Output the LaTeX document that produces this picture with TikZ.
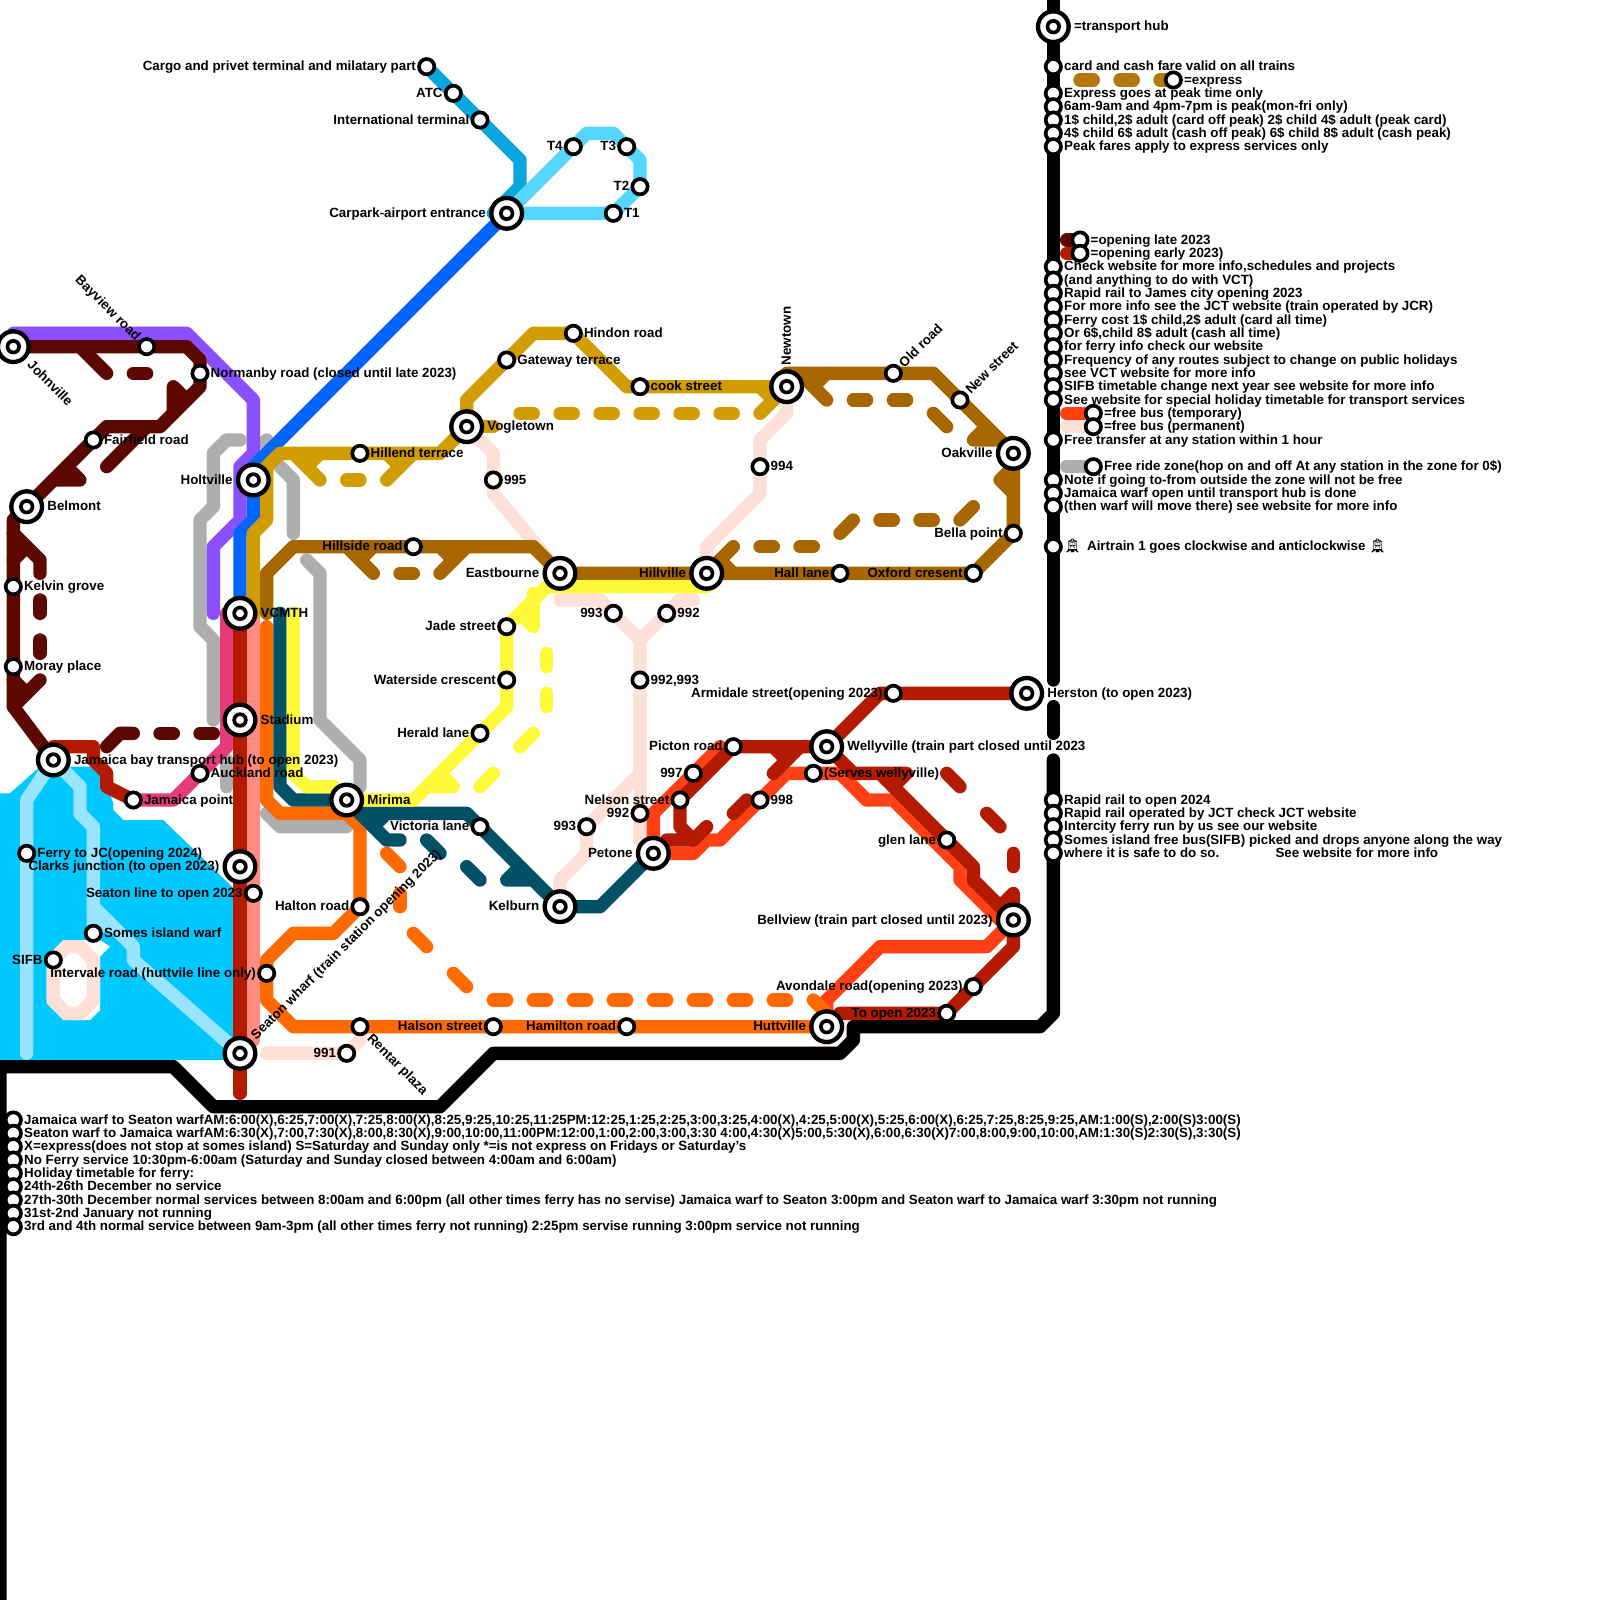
\documentclass[tikz,border=0pt]{standalone}
\usepackage{fontspec}
\setmainfont{Liberation Sans}[BoldFont={Liberation Sans Bold}]
\newfontfamily\emojifont{Noto Emoji}
\usetikzlibrary{backgrounds}
\definecolor{maroon}{HTML}{5C0800}
\definecolor{redline}{HTML}{B31A00}
\definecolor{fireline}{HTML}{FF4015}
\definecolor{peach}{HTML}{FFE0D6}
\definecolor{orangeline}{HTML}{FF6A00}
\definecolor{salmon}{HTML}{FF8C82}
\definecolor{pinkline}{HTML}{E63A7A}
\definecolor{brownline}{HTML}{A86600}
\definecolor{expbrown}{HTML}{B5760A}
\definecolor{goldline}{HTML}{D19C00}
\definecolor{tealline}{HTML}{005066}
\definecolor{yellowline}{HTML}{FFF93A}
\definecolor{grayline}{HTML}{AEAEAE}
\definecolor{purpleline}{HTML}{8A50FF}
\definecolor{blueline}{HTML}{0066FF}
\definecolor{water}{HTML}{00C8FF}
\definecolor{ferry}{HTML}{99E5FF}
\definecolor{airport}{HTML}{0AA5DC}
\definecolor{airloop}{HTML}{55D6FF}

\begin{document}
\begin{tikzpicture}[
        x=0.4cm, y=-0.4cm,
        font=\bfseries\fontsize{11.4}{13}\selectfont,
        mm/.style={line width=0.4cm, line cap=round, line join=round},
        stop/.style={circle, draw=black, fill=white, line width=0.11cm,
                     minimum size=0.46cm, inner sep=0pt},
        hub/.style={circle, draw=black, fill=white, line width=0.13cm,
                    minimum size=0.92cm, inner sep=0pt,
                    path picture={\draw[line width=0.11cm]
                        (path picture bounding box.center) circle (0.175cm);}},
        lab/.style={inner sep=0pt, text height=9pt, text depth=1.8pt},
        stoplab/.style={lab, inner xsep=0.03cm},
        hublab/.style={lab, inner xsep=0.09cm},
    ]
    \useasboundingbox (0,0) rectangle (120,120);

    % airport
    \node[stop, label={[stoplab]left:Cargo and privet terminal and milatary part}] (cargo) at (32,5) {};
    \node[stop, label={[stoplab]left:ATC}] (atc) at (34,7) {};
    \node[stop, label={[stoplab]left:International terminal}] (intl) at (36,9) {};
    \node[hub, label={[hublab]left:Carpark-airport entrance}] (carpark) at (38,16) {};
    \node[stop, label={[stoplab]right:T1}] (tone) at (46,16) {};
    \node[stop, label={[stoplab]left:T2}] (ttwo) at (48,14) {};
    \node[stop, label={[stoplab]left:T3}] (tthree) at (47,11) {};
    \node[stop, label={[stoplab]left:T4}] (tfour) at (43,11) {};

    % west side
    \node[hub] (johnville) at (1,26) {};
    \node[stop] (bayview) at (11,26) {};
    \node[stop, label={[stoplab]right:Normanby road (closed until late 2023)}] (normanby) at (15,28) {};
    \node[stop, label={[stoplab]right:Fairfield road}] (fairfield) at (7,33) {};
    \node[hub, label={[hublab]right:Belmont}] (belmont) at (2,38) {};
    \node[stop, label={[stoplab]right:Kelvin grove}] (kelvin) at (1,44) {};
    \node[stop, label={[stoplab]right:Moray place}] (moray) at (1,50) {};
    \node[hub, label={[hublab]left:Holtville}] (holtville) at (19,36) {};
    \node[hub, label={[hublab]right:VCMTH}] (vcmth) at (18,46) {};
    \node[hub, label={[hublab]right:Stadium}] (stadium) at (18,54) {};
    \node[hub, label={[hublab]right:Jamaica bay transport hub (to open 2023)}] (jamaica) at (4,57) {};
    \node[stop, label={[stoplab]right:Auckland road}] (auckland) at (15,58) {};
    \node[stop, label={[stoplab]right:Jamaica point}] (jpoint) at (10,60) {};
    \node[stop, label={[stoplab]right:Ferry to JC(opening 2024)}] (ferryjc) at (2,64) {};
    \node[hub, label={[hublab]left:Clarks junction (to open 2023)}] (clarks) at (18,65) {};
    \node[stop, label={[stoplab]left:Seaton line to open 2023}] (seatonline) at (19,67) {};
    \node[stop, label={[stoplab]right:Somes island warf}] (somes) at (7,70) {};
    \node[stop, label={[stoplab]left:SIFB}] (sifb) at (4,72) {};
    \node[stop, label={[stoplab]left:Intervale road (huttvile line only)}] (intervale) at (20,73) {};
    \node[hub] (seatonw) at (18,79) {};
    \node[stop, label={[stoplab]left:Halton road}] (halton) at (27,68) {};
    \node[stop, label={[stoplab]left:991}] (ninetyone) at (26,79) {};
    \node[stop] (rentar) at (27,77) {};

    % middle
    \node[stop, label={[stoplab]right:Hillend terrace}] (hillend) at (27,34) {};
    \node[hub, label={[hublab]right:Vogletown}] (vogletown) at (35,32) {};
    \node[stop, label={[stoplab]right:Gateway terrace}] (gateway) at (38,27) {};
    \node[stop, label={[stoplab]right:Hindon road}] (hindon) at (43,25) {};
    \node[stop, label={[stoplab]right:cook street}] (cook) at (48,29) {};
    \node[hub] (newtown) at (59,29) {};
    \node[stop, label={[stoplab]right:995}] (nfive) at (37,36) {};
    \node[stop, label={[stoplab]right:994}] (nfour) at (57,35) {};
    \node[stop, label={[stoplab]left:Hillside road}] (hillside) at (31,41) {};
    \node[hub, label={[hublab]left:Eastbourne}] (eastbourne) at (42,43) {};
    \node[hub, label={[hublab]left:Hillville}] (hillville) at (53,43) {};
    \node[stop, label={[stoplab]left:Jade street}] (jade) at (38,47) {};
    \node[stop, label={[stoplab]left:Waterside crescent}] (waterside) at (38,51) {};
    \node[stop, label={[stoplab]left:Herald lane}] (herald) at (36,55) {};
    \node[stop, label={[stoplab]left:993}] (nthreetop) at (46,46) {};
    \node[stop, label={[stoplab]right:992}] (ntwotop) at (50,46) {};
    \node[stop, label={[stoplab]right:{992,993}}] (ntwothree) at (48,51) {};
    \node[hub, label={[hublab]right:Mirima}] (mirima) at (26,60) {};
    \node[stop, label={[stoplab]left:Victoria lane}] (victoria) at (36,62) {};
    \node[hub, label={[hublab]left:Kelburn}] (kelburn) at (42,68) {};
    \node[hub, label={[hublab]left:Petone}] (petone) at (49,64) {};
    \node[stop, label={[stoplab]left:993}] (nthreelow) at (44,62) {};
    \node[stop, label={[stoplab]left:992}] (ntwolow) at (48,61) {};
    \node[stop, label={[stoplab]left:Nelson street}] (nelson) at (51,60) {};
    \node[stop, label={[stoplab]left:997}] (nseven) at (52,58) {};
    \node[stop, label={[stoplab]right:998}] (neight) at (57,60) {};
    \node[stop, label={[stoplab]left:Picton road}] (picton) at (55,56) {};
    \node[stop, label={[stoplab]left:Halson street}] (halson) at (37,77) {};
    \node[stop, label={[stoplab]left:Hamilton road}] (hamilton) at (47,77) {};
    \node[hub, label={[hublab]left:Huttville}] (huttville) at (62,77) {};

    % east side
    \node[stop] (oldroad) at (67,28) {};
    \node[stop] (newstreet) at (72,30) {};
    \node[hub, label={[hublab]left:Oakville}] (oakville) at (76,34) {};
    \node[stop, label={[stoplab]left:Bella point}] (bella) at (76,40) {};
    \node[stop, label={[stoplab]left:Oxford cresent}] (oxford) at (73,43) {};
    \node[stop, label={[stoplab]left:Hall lane}] (hall) at (63,43) {};
    \node[stop, label={[stoplab]left:Armidale street(opening 2023)}] (armidale) at (67,52) {};
    \node[hub, label={[hublab]right:Herston (to open 2023)}] (herston) at (77,52) {};
    \node[hub, label={[hublab]right:Wellyville (train part closed until 2023}] (wellyville) at (62,56) {};
    \node[stop, label={[stoplab]right:(Serves wellyville)}] (serves) at (61,58) {};
    \node[stop, label={[stoplab]left:glen lane}] (glen) at (71,63) {};
    \node[hub, label={[hublab]left:Bellview (train part closed until 2023)}] (bellview) at (76,69) {};
    \node[stop, label={[stoplab]left:Avondale road(opening 2023)}] (avondale) at (73,74) {};
    \node[stop, label={[stoplab]left:To open 2023}] (toopen) at (71,76) {};

    % slanted names
    \node[lab, rotate=-45, anchor=east] (bayviewlab) at (10.4,25.4) {Bayview road};
    \node[lab, rotate=-45, anchor=west] (johnvillelab) at (2.2,27.2) {Johnville};
    \node[lab, rotate=45, anchor=west] (seatonwlab) at (19,77.8) {Seaton wharf (train station opening 2023)};
    \node[lab, rotate=-45, anchor=west] (rentarlab) at (27.7,77.7) {Rentar plaza};
    \node[lab, rotate=90, anchor=west] (newtownlab) at (59,27.4) {Newtown};
    \node[lab, rotate=45, anchor=west] (oldroadlab) at (67.6,27.4) {Old road};
    \node[lab, rotate=45, anchor=west] (newstreetlab) at (72.6,29.4) {New street};

    % legend, right hand side
    \node[hub, label={[hublab]right:=transport hub}] (keyhub) at (79,2) {};
    \foreach \row/\txt in {5/{card and cash fare valid on all trains},
            7/{Express goes at peak time only},
            8/{6am-9am and 4pm-7pm is peak(mon-fri only)},
            9/{1\$ child,2\$ adult (card off peak) 2\$ child 4\$ adult (peak card)},
            10/{4\$ child 6\$ adult (cash off peak) 6\$ child 8\$ adult (cash peak)},
            11/{Peak fares apply to express services only},
            20/{Check website for more info,schedules and projects},
            21/{(and anything to do with VCT)},
            22/{Rapid rail to James city opening 2023},
            23/{For more info see the JCT website (train operated by JCR)},
            24/{Ferry cost 1\$ child,2\$ adult (card all time)},
            25/{Or 6\$,child 8\$ adult (cash all time)},
            26/{for ferry info check our website},
            27/{Frequency of any routes subject to change on public holidays},
            28/{see VCT website for more info},
            29/{SIFB timetable change next year see website for more info},
            30/{See website for special holiday timetable for transport services},
            33/{Free transfer at any station within 1 hour},
            36/{Note if going to-from outside the zone will not be free},
            37/{Jamaica warf open until transport hub is done},
            38/{(then warf will move there) see website for more info},
            41/{{\emojifont 🚊}\, Airtrain 1 goes clockwise and anticlockwise {\emojifont 🚊}},
            60/{Rapid rail to open 2024},
            61/{Rapid rail operated by JCT check JCT website},
            62/{Intercity ferry run by us see our website},
            63/{Somes island free bus(SIFB) picked and drops anyone along the way},
            64/{where it is safe to do so.\hspace{48pt}See website for more info}} {
        \node[stop] (key\row) at (79,\row) {};
        \node[lab, anchor=west] (keytxt\row) at (79.8,\row) {\txt};
    }
    \node[stop, label={[stoplab]right:=express}] (keyexpress) at (88,6) {};
    \node[stop, label={[stoplab]right:=opening late 2023}] (keylate) at (81,18) {};
    \node[stop, label={[stoplab]right:=opening early 2023)}] (keyearly) at (81,19) {};
    \node[stop, label={[stoplab]right:=free bus (temporary)}] (keytemp) at (82,31) {};
    \node[stop, label={[stoplab]right:=free bus (permanent)}] (keyperm) at (82,32) {};
    \node[stop, label={[stoplab]right:Free ride zone(hop on and off At any station in the zone for 0\$)}] (keyzone) at (82,35) {};

    % ferry timetable
    \foreach \row/\txt in {84/{Jamaica warf to Seaton warfAM:6:00(X),6:25,7:00(X),7:25,8:00(X),8:25,9:25,10:25,11:25PM:12:25,1:25,2:25,3:00,3:25,4:00(X),4:25,5:00(X),5:25,6:00(X),6:25,7:25,8:25,9:25,AM:1:00(S),2:00(S)3:00(S)},
            85/{Seaton warf to Jamaica warfAM:6:30(X),7:00,7:30(X),8:00,8:30(X),9:00,10:00,11:00PM:12:00,1:00,2:00,3:00,3:30 4:00,4:30(X)5:00,5:30(X),6:00,6:30(X)7:00,8:00,9:00,10:00,AM:1:30(S)2:30(S),3:30(S)},
            86/{X=express(does not stop at somes island) S=Saturday and Sunday only *=is not express on Fridays or Saturday's},
            87/{No Ferry service 10:30pm-6:00am (Saturday and Sunday closed between 4:00am and 6:00am)},
            88/{Holiday timetable for ferry:},
            89/{24th-26th December no service},
            90/{27th-30th December normal services between 8:00am and 6:00pm (all other times ferry has no servise) Jamaica warf to Seaton 3:00pm and Seaton warf to Jamaica warf 3:30pm not running},
            91/{31st-2nd January not running},
            92/{3rd and 4th normal service between 9am-3pm (all other times ferry not running) 2:25pm servise running 3:00pm service not running}} {
        \node[stop] (time\row) at (1,\row) {};
        \node[lab, anchor=west] (timetxt\row) at (1.8,\row) {\txt};
    }

    \begin{scope}[on background layer]
        % harbour
        \fill[water] (0,59.5) -- (0.75,59.5) -- (3,57.5) -- (7.5,57.5) -- (8.5,60.25) -- (8.5,60.75)
            -- (9.25,61.5) -- (12.25,61.5) -- (17.5,66.6) -- (17.5,79.5) -- (0,79.5) -- cycle;
        \fill[white] (4.75,70.5) -- (7.5,70.5) -- (8.25,71) -- (7.5,71.75) -- (7.5,75.75) -- (6.75,76.5)
            -- (4.75,76.5) -- (3.5,75.25) -- (3.5,71.75) -- cycle;
        \draw[mm, ferry] (jamaica.center) -- (2,60) -- (ferryjc.center) -- (2,79);
        \draw[mm, ferry] (jamaica.center) -- (6,59) -- (6,61) -- (7,62) -- (7,68) -- (10,71) -- (10,72) -- (seatonw.center);
        \draw[mm, ferry] (7,68) -- (somes.center) -- (8,69);
        \draw[mm, peach] (5,71) -- (6,71) -- (7,72) -- (7,75) -- (6,76) -- (5,76) -- (4,75) -- (sifb.center) -- cycle;

        % free ride zone
        \draw[mm, grayline] (18,33) -- (17,33) -- (16,34) -- (16,38) -- (15,39) -- (15,47) -- (16,48) -- (16,54);
        \draw[mm, grayline] (17,57) -- (17,59);
        \draw[mm, grayline] (20,33) -- (19.8,33.2);
        \draw[mm, grayline] (20,34) -- (22,36) -- (22,40);
        \draw[mm, grayline] (23,42) -- (24,43) -- (24,54) -- (27,57) -- (27,59);
        \draw[mm, grayline] (20,61) -- (21,62) -- (26,62);

        % free buses
        \draw[mm, peach] (20,79) -- (ninetyone.center) -- (27,78) -- (rentar.center);
        \draw[mm, peach] (vogletown.center) -- (37,34) -- (nfive.center) -- (37,37) -- (eastbourne.center);
        \draw[mm, peach] (newtown.center) -- (59,31) -- (57,33) -- (nfour.center) -- (57,37) -- (53,41) -- (hillville.center);
        \draw[mm, peach] (42,45) -- (45,45) -- (48,48) -- (ntwothree.center) -- (48,58) -- (nthreelow.center) -- (44,64) -- (42,66) -- (kelburn.center);
        \draw[mm, peach] (48,58) -- (ntwolow.center) -- (48,63) -- (petone.center);
        \draw[mm, peach] (48,48) -- (51,45) -- (52,45);
        \draw[mm, peach] (huttville.center) -- (63,77) -- (62,78);

        % airport lines
        \draw[mm, airport] (cargo.center) -- (atc.center) -- (intl.center) -- (39,12) -- (39,14) -- (37,16) -- (carpark.center);
        \draw[mm, airloop] (carpark.center) -- (tfour.center) -- (44,10) -- (46,10) -- (48,12) -- (ttwo.center) -- (tone.center) -- cycle;

        \draw[mm, purpleline] (1,25) -- (14,25) -- (19,30) -- (19,34) -- (18,35) -- (18,39) -- (16,41) -- (16,46);
        \draw[mm, blueline] (carpark.center) -- (19,35) -- (holtville.center) -- (19,39) -- (18,40) -- (vcmth.center);
        \draw[mm, pinkline] (jpoint.center) -- (13,60) -- (auckland.center) -- (17,56) -- (17,46);

        % maroon line
        \draw[mm, maroon] (johnville.center) -- (bayview.center) -- (14,26) -- (15,27) -- (normanby.center) -- (15,29)
            -- (12,32) -- (8,32) -- (fairfield.center) -- (belmont.center) -- (1,39) -- (kelvin.center) -- (moray.center)
            -- (1,53) -- (jamaica.center);
        \draw[mm, maroon] (6,26) -- (8,28);
        \draw[mm, maroon] (10,28) -- (11,28);
        \draw[mm, maroon] (13,31) -- (13,29) -- (14,30);
        \draw[mm, maroon] (8,35) -- (11,32);
        \draw[mm, maroon] (5,35) -- (6,36) -- (4,36);
        \draw[mm, maroon] (1,40) -- (3,42) -- (3,43);
        \draw[mm, maroon] (2,41) -- (1,42);
        \draw[mm, maroon] (3,45) -- (3,46);
        \draw[mm, maroon] (3,48) -- (3,49);
        \draw[mm, maroon] (3,51) -- (1,53);
        \draw[mm, maroon] (1,51) -- (2,52);
        \draw[mm, maroon] (8,56) -- (9,55) -- (10,55);
        \draw[mm, maroon] (12,55) -- (13,55);
        \draw[mm, maroon] (15,55) -- (16,55);

        \draw[mm, salmon] (19,46) -- (19,78) -- (seatonw.center);
        \draw[mm, redline] (vcmth.center) -- (stadium.center) -- (clarks.center) -- (seatonw.center) -- (18,82);
        \draw[mm, redline] (jamaica.center) -- (4,56) -- (7,56) -- (7,57) -- (8,58) -- (8,59) -- (jpoint.center);

        % gold line
        \draw[mm, goldline] (19,46) -- (19,40) -- (20,39) -- (20,35) -- (21,34) -- (hillend.center) -- (33,34)
            -- (vogletown.center) -- (35,30) -- (gateway.center) -- (40,25) -- (hindon.center) -- (47,29)
            -- (cook.center) -- (newtown.center);
        \draw[mm, goldline] (22,34) -- (24,36);
        \draw[mm, goldline] (23,35) -- (24,34);
        \draw[mm, goldline] (26,36) -- (27,36);
        \draw[mm, goldline] (29,36) -- (31,34);
        \draw[mm, goldline] (30,35) -- (29,34);
        \draw[mm, goldline] (vogletown.center) -- (37,32);
        \foreach \a/\b in {39/40,42/43,45/46,48/49,51/52,54/55} {
            \draw[mm, goldline] (\a,31) -- (\b,31);
        }
        \draw[mm, goldline] (57,31) -- (newtown.center);
        \draw[mm, goldline] (57,29) -- (58,30);

        % brown line
        \draw[mm, brownline] (20,46) -- (20,43) -- (22,41) -- (hillside.center) -- (40,41) -- (eastbourne.center)
            -- (hillville.center) -- (hall.center) -- (oxford.center) -- (bella.center) -- (oakville.center)
            -- (newstreet.center) -- (70,28) -- (oldroad.center) -- (59,28) -- (newtown.center);
        \draw[mm, brownline] (26,41) -- (28,43);
        \draw[mm, brownline] (27,42) -- (28,41);
        \draw[mm, brownline] (30,43) -- (31,43);
        \draw[mm, brownline] (33,43) -- (35,41);
        \draw[mm, brownline] (34,42) -- (33,41);
        \draw[mm, brownline] (hillville.center) -- (55,41);
        \draw[mm, brownline] (54,42) -- (55,43);
        \draw[mm, brownline] (57,41) -- (58,41);
        \draw[mm, brownline] (60,41) -- (61,41);
        \draw[mm, brownline] (63,40) -- (64,39);
        \draw[mm, brownline] (66,39) -- (67,39);
        \draw[mm, brownline] (69,39) -- (70,39);
        \draw[mm, brownline] (72,39) -- (73,38);
        \draw[mm, brownline] (60,28) -- (62,30);
        \draw[mm, brownline] (61,29) -- (62,28);
        \draw[mm, brownline] (64,30) -- (65,30);
        \draw[mm, brownline] (67,30) -- (68,30);
        \draw[mm, brownline] (70,31) -- (71,32);
        \draw[mm, brownline] (74,32) -- (73,33) -- (75,33);
        \draw[mm, brownline] (76,35) -- (75,36) -- (76,37);

        % orange line
        \draw[mm, orangeline] (20,47) -- (20,60) -- (21,61) -- (26,61) -- (27,62) -- (halton.center) -- (25,70) -- (22,70)
            -- (20,72) -- (intervale.center) -- (20,75) -- (22,77) -- (rentar.center) -- (halson.center)
            -- (hamilton.center) -- (huttville.center);
        \draw[mm, orangeline] (29,64) -- (30,65);
        \draw[mm, orangeline] (30,67) -- (30,68);
        \draw[mm, orangeline] (31,70) -- (32,71);
        \draw[mm, orangeline] (34,73) -- (35,74);
        \foreach \a/\b in {37/38,40/41,43/44,46/47,49/50,52/53,55/56,58/59} {
            \draw[mm, orangeline] (\a,75) -- (\b,75);
        }

        % teal line
        \draw[mm, tealline] (21,46) -- (21,59) -- (22,60) -- (mirima.center) -- (27,61) -- (35,61) -- (victoria.center)
            -- (kelburn.center) -- (45,68) -- (petone.center);
        \draw[mm, tealline] (27,61) -- (29,63) -- (30,63);
        \draw[mm, tealline] (28,62) -- (29,61);
        \draw[mm, tealline] (32,63) -- (33,64);
        \draw[mm, tealline] (35,65) -- (36,66);
        \draw[mm, tealline] (39,65) -- (38,66) -- (40,66);

        % yellow line
        \draw[mm, yellowline] (22,46) -- (22,58) -- (23,59) -- (25,59) -- (mirima.center) -- (31,60) -- (herald.center)
            -- (38,53) -- (waterside.center) -- (jade.center) -- (41,44) -- (53,44);
        \draw[mm, yellowline] (40,44.5) -- (40,47) -- (39,46);
        \draw[mm, yellowline] (41,49) -- (41,50);
        \draw[mm, yellowline] (41,52) -- (41,53);
        \draw[mm, yellowline] (39,56) -- (40,55);
        \draw[mm, yellowline] (36,59) -- (37,58);
        \draw[mm, yellowline] (33,58) -- (34,59) -- (32,59);

        % free bus, temporary
        \draw[mm, fireline] (54,56) -- (nseven.center) -- (49,61) -- (petone.center) -- (52,64) -- (53,63) -- (54,63)
            -- (neight.center) -- (59,58) -- (serves.center) -- (63,58) -- (65,60) -- (67,60) -- (72,65) -- (72,66)
            -- (75,69) -- (bellview.center) -- (74,71) -- (66,71) -- (62,75) -- (huttville.center);

        % red line
        \draw[mm, redline] (herston.center) -- (armidale.center) -- (66,52) -- (wellyville.center) -- (picton.center)
            -- (nelson.center) -- (51,62) -- (52,63) -- (50,63);
        \draw[mm, redline] (52,63) -- (53,62);
        \draw[mm, redline] (55,61) -- (56,60);
        \draw[mm, redline] (58,58) -- (60,56);
        \draw[mm, redline] (59,57) -- (58,56);
        \draw[mm, redline] (wellyville.center) -- (64,58) -- (66,58) -- (glen.center) -- (73,65) -- (73,66) -- (bellview.center)
            -- (76,71) -- (avondale.center) -- (toopen.center) -- (63,76) -- (huttville.center);
        \draw[mm, redline] (66,58) -- (68,58) -- (67,59);
        \draw[mm, redline] (71,58) -- (72,59);
        \draw[mm, redline] (74,61) -- (75,62);
        \draw[mm, redline] (76,64) -- (76,65);
        \draw[mm, redline] (75,68) -- (76,67) -- (bellview.center);

        \draw[mm, orangeline] (61,75) -- (62,76) -- (huttville.center);

        % transport border
        \draw[mm, black] (keyhub.center) -- (79,0);
        \draw[mm, black] (keyhub.center) -- (79,51);
        \draw[mm, black] (79,53) -- (79,55);
        \draw[mm, black] (79,57) -- (79,76) -- (78,77) -- (64,77) -- (64,78) -- (63,79) -- (37,79) -- (33,83) -- (16,83)
            -- (13,80) -- (0,80) -- (0,120);

        % legend swatches
        \draw[mm, expbrown] (81,6) -- (82,6);
        \draw[mm, expbrown] (84,6) -- (85,6);
        \draw[mm, expbrown] (87,6) -- (keyexpress.center);
        \draw[mm, maroon] (80,18) -- (keylate.center);
        \draw[mm, redline] (80,19) -- (keyearly.center);
        \draw[mm, fireline] (80,31) -- (keytemp.center);
        \draw[mm, peach] (80,32) -- (keyperm.center);
        \draw[mm, grayline] (80,35) -- (keyzone.center);
    \end{scope}
\end{tikzpicture}
\end{document}
